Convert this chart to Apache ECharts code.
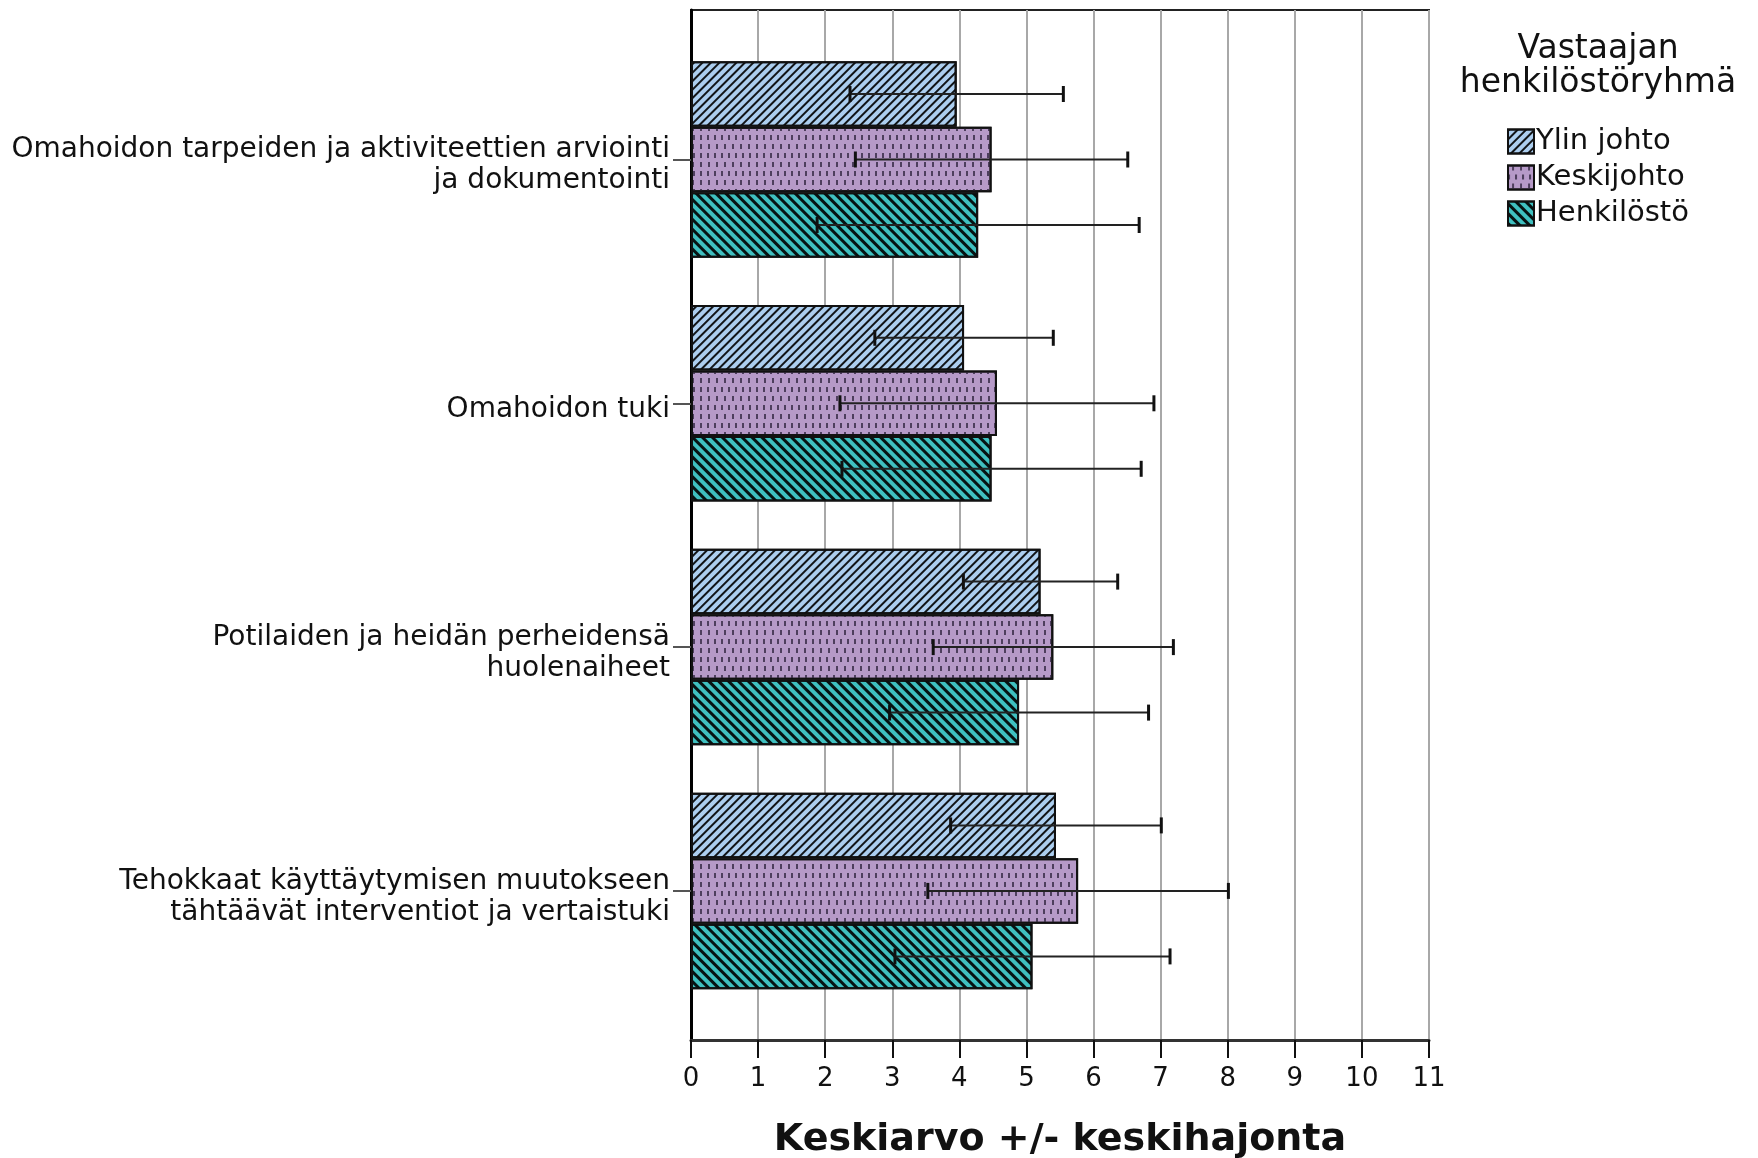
<!DOCTYPE html>
<html>
<head>
<meta charset="utf-8">
<script src="https://cdn.jsdelivr.net/npm/echarts@6/dist/echarts.min.js"></script>
<style>
html,body{margin:0;padding:0;background:#fff;}
#chart{width:1758px;height:1158px;}
</style>
</head>
<body>
<div id="chart"></div>
<script>
// ---- data ----
const categories = [
  'Omahoidon tarpeiden ja aktiviteettien arviointi\nja dokumentointi',
  'Omahoidon tuki',
  'Potilaiden ja heidän perheidensä\nhuolenaiheet',
  'Tehokkaat käyttäytymisen muutokseen\ntähtäävät interventiot ja vertaistuki'
];
const groupNames = ['Ylin johto', 'Keskijohto', 'Henkilöstö'];
const meanYlin = [3.96, 4.07, 5.21, 5.44];
const meanKeski = [4.48, 4.56, 5.40, 5.77];
const meanHenk = [4.28, 4.48, 4.89, 5.09];
const sdYlin = [1.59, 1.33, 1.15, 1.57];
const sdKeski = [2.03, 2.34, 1.79, 2.24];
const sdHenk = [2.40, 2.23, 1.93, 2.05];
const xTicks = [0, 11, 1];
const axisTitle = 'Keskiarvo +/- keskihajonta';
const legendTitle = 'Vastaajan\nhenkilöstöryhmä';

// ---- styling ----
const CAT_GAP = 0.194;
const fills = ['#acceef', '#b69ac8', '#3fc0c0'];
const decals = [
  {symbol: 'rect', symbolSize: 1, color: 'rgba(0,0,0,0.9)', dashArrayX: [1, 0], dashArrayY: [2, 3.2], rotation: -Math.PI / 4},
  {symbol: 'rect', symbolSize: 1, color: '#4e3f5e', dashArrayX: [[2, 4.6], [0, 3.3, 2, 1.3]], dashArrayY: [4.5, 3.5], rotation: 0},
  {symbol: 'rect', symbolSize: 1, color: 'rgba(0,0,0,0.9)', dashArrayX: [1, 0], dashArrayY: [2.6, 3.2], rotation: Math.PI / 4}
];
const FONT = 'DejaVu Sans';

const means = [meanYlin, meanKeski, meanHenk];
const sds = [sdYlin, sdKeski, sdHenk];

const barSeries = groupNames.map((name, s) => ({
  name: name,
  type: 'bar',
  xAxisIndex: 1,
  yAxisIndex: 1,
  barGap: '0%',
  barCategoryGap: (CAT_GAP * 100) + '%',
  data: means[s],
  itemStyle: {color: fills[s], borderColor: '#111', borderWidth: 2, decal: decals[s]},
  emphasis: {disabled: true},
  z: 2
}));

const errSeries = groupNames.map((name, s) => ({
  type: 'custom',
  name: name + ' sd',
  xAxisIndex: 1,
  yAxisIndex: 1,
  z: 10,
  silent: true,
  data: means[s].map((m, i) => [i, m - sds[s][i], m + sds[s][i]]),
  encode: {x: [1, 2], y: 0},
  renderItem: function (params, api) {
    const cat = api.value(0);
    const lo = api.coord([api.value(1), cat]);
    const hi = api.coord([api.value(2), cat]);
    const band = api.size([0, 1])[1];
    const barW = band * (1 - CAT_GAP) / 3;
    const y = lo[1] + (s - 1) * barW;
    const cap = 8;
    const st = {stroke: '#222', lineWidth: 2};
    const stc = {stroke: '#111', lineWidth: 3};
    return {
      type: 'group',
      children: [
        {type: 'line', shape: {x1: lo[0], y1: y, x2: hi[0], y2: y}, style: st},
        {type: 'line', shape: {x1: lo[0], y1: y - cap, x2: lo[0], y2: y + cap}, style: stc},
        {type: 'line', shape: {x1: hi[0], y1: y - cap, x2: hi[0], y2: y + cap}, style: stc}
      ]
    };
  }
}));

const chart = echarts.init(document.getElementById('chart'));
chart.setOption({
  animation: false,
  backgroundColor: '#fff',
  textStyle: {fontFamily: FONT},
  graphic: [{
    type: 'text',
    x: 1598,
    y: 32,
    style: {
      text: legendTitle,
      align: 'center',
      verticalAlign: 'top',
      fill: '#111',
      font: '33px "DejaVu Sans"',
      lineHeight: 34
    }
  }],
  legend: {
    orient: 'vertical',
    left: 1502,
    top: 122,
    itemWidth: 26,
    itemHeight: 24,
    itemGap: 7,
    icon: 'rect',
    selectedMode: false,
    data: groupNames,
    textStyle: {fontFamily: FONT, fontSize: 29, lineHeight: 28, color: '#111', padding: [0, 0, 0, -3]}
  },
  grid: [
    {left: 691, top: 10, width: 738, height: 1030, show: true, borderColor: '#222', borderWidth: 2, containLabel: false, outerBoundsMode: 'none'},
    {left: 691, top: 37.6, width: 738, height: 975.2, containLabel: false, outerBoundsMode: 'none'}
  ],
  xAxis: [
    {
      gridIndex: 0, type: 'value', min: xTicks[0], max: xTicks[1], interval: xTicks[2],
      axisLine: {show: true, lineStyle: {color: '#333', width: 3}},
      axisTick: {show: true, length: 18, lineStyle: {color: '#111', width: 2}},
      axisLabel: {fontFamily: FONT, fontSize: 26, color: '#111', margin: 26},
      splitLine: {show: true, lineStyle: {color: '#a8a8a8', width: 2}},
      name: axisTitle,
      nameLocation: 'middle',
      nameGap: 81,
      nameTextStyle: {fontFamily: FONT, fontSize: 38, fontWeight: 'bold', color: '#111'}
    },
    {gridIndex: 1, type: 'value', min: xTicks[0], max: xTicks[1], show: false}
  ],
  yAxis: [
    {
      gridIndex: 0, type: 'value', min: 0, max: 1,
      axisLine: {show: true, lineStyle: {color: '#000', width: 3}},
      axisTick: {show: false}, axisLabel: {show: false}, splitLine: {show: false}
    },
    {
      gridIndex: 1, type: 'category', inverse: true, data: categories,
      axisLine: {show: false},
      axisTick: {show: true, alignWithLabel: true, length: 18, lineStyle: {color: '#555', width: 2}},
      axisLabel: {
        color: '#111', margin: 21, align: 'right',
        formatter: function (v) {
          return '{s| }\n' + v.split('\n').map(l => '{a|' + l + '}').join('\n');
        },
        rich: {
          s: {fontSize: 1, lineHeight: 12},
          a: {fontFamily: FONT, fontSize: 28, lineHeight: 31, color: '#111', align: 'right'}
        }
      },
      splitLine: {show: false}
    }
  ],
  series: barSeries.concat(errSeries)
});
</script>
</body>
</html>
